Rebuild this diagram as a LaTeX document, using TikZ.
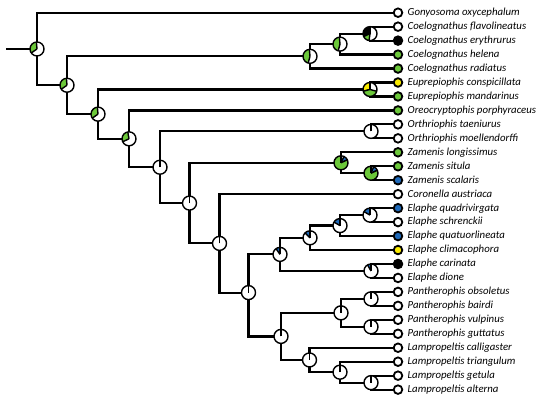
\documentclass[tikz,border=0pt]{standalone}
\usepackage{fontspec}
\setmainfont{Carlito}
\definecolor{pgreen}{RGB}{108,200,58}
\definecolor{pblue}{RGB}{30,105,185}
\definecolor{pyellow}{RGB}{250,235,0}
\newcommand\pr{7pt}
\newcommand\mypiechart[2]{%
  \fill[white] (#1) circle[radius=\pr];
  \foreach \pa/\pb/\pc in {#2}{%
    \fill[\pc] (#1) -- ++(\pa:\pr) arc[start angle=\pa, end angle=\pb, radius=\pr] -- cycle;
    \draw[pieline] (#1) -- ++(\pa:\pr);
    \draw[pieline] (#1) -- ++(\pb:\pr);
  }
  \draw[pieline] (#1) circle[radius=\pr];
}
\begin{document}
\begin{tikzpicture}[x=1pt,y=-13.96pt,
  br/.style={line width=2.2pt, black},
  pieline/.style={line width=1.4pt, black},
  tip/.style={circle, draw, line width=1.8pt, minimum size=8.6pt, inner sep=0pt},
  lab/.style={anchor=west, inner sep=0pt, text height=1.5ex, text depth=0.3ex, font=\fontsize{10.8pt}{13pt}\selectfont\itshape}]
\useasboundingbox (0,-0.9097) rectangle (550,27.958);
\foreach \i/\fc/\nm in {
 0/white/Gonyosoma oxycephalum,
 1/white/Coelognathus flavolineatus,
 2/black/Coelognathus erythrurus,
 3/pgreen/Coelognathus helena,
 4/pgreen/Coelognathus radiatus,
 5/pyellow/Euprepiophis conspicillata,
 6/pgreen/Euprepiophis mandarinus,
 7/pgreen/Oreocryptophis porphyraceus,
 8/white/Orthriophis taeniurus,
 9/white/Orthriophis moellendorffi,
 10/pgreen/Zamenis longissimus,
 11/pgreen/Zamenis situla,
 12/pblue/Zamenis scalaris,
 13/white/Coronella austriaca,
 14/pblue/Elaphe quadrivirgata,
 15/white/Elaphe schrenckii,
 16/pblue/Elaphe quatuorlineata,
 17/pyellow/Elaphe climacophora,
 18/black/Elaphe carinata,
 19/white/Elaphe dione,
 20/white/Pantherophis obsoletus,
 21/white/Pantherophis bairdi,
 22/white/Pantherophis vulpinus,
 23/white/Pantherophis guttatus,
 24/white/Lampropeltis calligaster,
 25/white/Lampropeltis triangulum,
 26/white/Lampropeltis getula,
 27/white/Lampropeltis alterna}{
  \node[tip, fill=\fc] (t\i) at (398,\i) {};
  \node[lab] (l\i) at (407.5,\i) {\nm};
}
% internal nodes
\coordinate (rootstub) at (6,2.598);
\coordinate (root) at (37,2.598);
\coordinate (n2) at (67,5.196);
\coordinate (c1) at (310,3.125);
\coordinate (c2) at (340,2.25);
\coordinate (c3) at (370,1.5);
\coordinate (n3) at (98,7.267);
\coordinate (eu) at (370,5.5);
\coordinate (n4) at (129,9.034);
\coordinate (n5) at (160,11.069);
\coordinate (or) at (371,8.5);
\coordinate (n6) at (189.5,13.638);
\coordinate (z1) at (341,10.75);
\coordinate (z2) at (371,11.5);
\coordinate (n7) at (219.5,16.525);
\coordinate (n8) at (248.5,20.05);
\coordinate (e1) at (280,17.3125);
\coordinate (e2) at (310,16.125);
\coordinate (e3) at (340,15.25);
\coordinate (e4) at (370,14.5);
\coordinate (e5) at (371,18.5);
\coordinate (pl) at (281,23.1875);
\coordinate (p1) at (341,21.5);
\coordinate (p2) at (371,20.5);
\coordinate (p3) at (371,22.5);
\coordinate (l1) at (309.5,24.875);
\coordinate (l2) at (340,25.75);
\coordinate (l3) at (371,26.5);
% branches
\draw[br] (rootstub) -- (root);
\draw[br] (root) |- (t0);  \draw[br] (root) |- (n2);
\draw[br] (n2) |- (c1);    \draw[br] (n2) |- (n3);
\draw[br] (c1) |- (c2);    \draw[br] (c1) |- (t4);
\draw[br] (c2) |- (c3);    \draw[br] (c2) |- (t3);
\draw[br] (c3) |- (t1);    \draw[br] (c3) |- (t2);
\draw[br] (n3) |- (eu);    \draw[br] (n3) |- (n4);
\draw[br] (eu) |- (t5);    \draw[br] (eu) |- (t6);
\draw[br] (n4) |- (t7);    \draw[br] (n4) |- (n5);
\draw[br] (n5) |- (or);    \draw[br] (n5) |- (n6);
\draw[br] (or) |- (t8);    \draw[br] (or) |- (t9);
\draw[br] (n6) |- (z1);    \draw[br] (n6) |- (n7);
\draw[br] (z1) |- (t10);   \draw[br] (z1) |- (z2);
\draw[br] (z2) |- (t11);   \draw[br] (z2) |- (t12);
\draw[br] (n7) |- (t13);   \draw[br] (n7) |- (n8);
\draw[br] (n8) |- (e1);    \draw[br] (n8) |- (pl);
\draw[br] (e1) |- (e2);    \draw[br] (e1) |- (e5);
\draw[br] (e2) |- (e3);    \draw[br] (e2) |- (t17);
\draw[br] (e3) |- (e4);    \draw[br] (e3) |- (t16);
\draw[br] (e4) |- (t14);   \draw[br] (e4) |- (t15);
\draw[br] (e5) |- (t18);   \draw[br] (e5) |- (t19);
\draw[br] (pl) |- (p1);    \draw[br] (pl) |- (l1);
\draw[br] (p1) |- (p2);    \draw[br] (p1) |- (p3);
\draw[br] (p2) |- (t20);   \draw[br] (p2) |- (t21);
\draw[br] (p3) |- (t22);   \draw[br] (p3) |- (t23);
\draw[br] (l1) |- (t24);   \draw[br] (l1) |- (l2);
\draw[br] (l2) |- (t25);   \draw[br] (l2) |- (l3);
\draw[br] (l3) |- (t26);   \draw[br] (l3) |- (t27);
% pies
\mypiechart{root}{95/215/pgreen}
\mypiechart{n2}{95/215/pgreen}
\mypiechart{n3}{95/215/pgreen}
\mypiechart{n4}{100/205/pgreen}
\mypiechart{c1}{95/255/pgreen}
\mypiechart{c2}{95/255/pgreen}
\mypiechart{c3}{90/205/black,205/262/pgreen}
\mypiechart{eu}{90/195/pyellow,195/345/pgreen}
\mypiechart{z1}{25/65/pblue,90/385/pgreen}
\mypiechart{z2}{25/68/pblue,90/385/pgreen}
\mypiechart{e4}{90/150/pblue}
\mypiechart{e3}{90/150/pblue}
\mypiechart{e2}{90/135/pblue}
\mypiechart{e1}{90/125/pblue}
\mypiechart{e5}{90/120/pblue}
\foreach \q in {or,n5,n6,n7,n8,pl,p1,p2,p3,l1,l2,l3}{\mypiechart{\q}{90/90/white}}
\end{tikzpicture}
\end{document}
